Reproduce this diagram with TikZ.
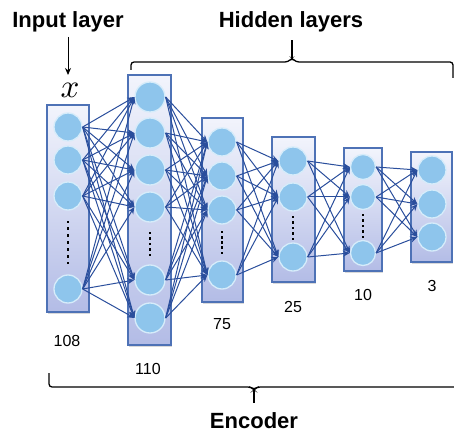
\documentclass[tikz,border=0pt]{standalone}
\usepackage{fontspec}
\setmainfont{Liberation Sans}
\usetikzlibrary{arrows.meta,shadows}

\definecolor{boxedge}{HTML}{4E72B6}
\definecolor{boxtop}{HTML}{F2F4FC}
\definecolor{boxbot}{HTML}{B3BCE6}
\definecolor{neufill}{HTML}{8EC5EC}
\definecolor{neurim}{HTML}{D6ECFA}
\definecolor{linkcol}{HTML}{2A4E9C}

\begin{document}
\begin{tikzpicture}[x=1pt,y=-1pt,
  layerbox/.style={draw=boxedge, line width=1.2pt, top color=boxtop, bottom color=boxbot,
    drop shadow={shadow xshift=1.2pt, shadow yshift=-1.6pt, opacity=0.3}, inner sep=0pt},
  neuron/.style={circle, fill=neufill, draw=neurim, line width=1.3pt, inner sep=0pt},
  link/.style={draw=linkcol, line width=1pt, -{Stealth[length=7pt,width=6pt]}},
  dotmark/.style={fill=black},
  title/.style={font=\bfseries\fontsize{22}{26}\selectfont, anchor=base},
  count/.style={font=\fontsize{16}{19}\selectfont},
  brace/.style={line width=1.3pt, rounded corners=3pt}]

\useasboundingbox (0,0) rectangle (454,435);

% layer frames
\node[layerbox, minimum width=42pt, minimum height=207pt] (box1) at (68,208.5) {};
\node[layerbox, minimum width=43pt, minimum height=270pt] (box2) at (149.5,210) {};
\node[layerbox, minimum width=41pt, minimum height=184pt] (box3) at (222.5,210) {};
\node[layerbox, minimum width=43pt, minimum height=145pt] (box4) at (293.5,209.5) {};
\node[layerbox, minimum width=38pt, minimum height=123pt] (box5) at (363,209.5) {};
\node[layerbox, minimum width=41pt, minimum height=110pt] (box6) at (431.5,207) {};

% neurons
\foreach \y [count=\i] in {127,160,196,289}
  \node[neuron, minimum size=28pt] (a\i) at (68,\y) {};
\foreach \y [count=\i] in {97,133,170,207,280,318}
  \node[neuron, minimum size=30pt] (b\i) at (150,\y) {};
\foreach \y [count=\i] in {142,176,210,275}
  \node[neuron, minimum size=28pt] (c\i) at (222,\y) {};
\foreach \y [count=\i] in {161,197,257}
  \node[neuron, minimum size=28pt] (d\i) at (293,\y) {};
\foreach \y [count=\i] in {167,197,253}
  \node[neuron, minimum size=25pt] (e\i) at (363,\y) {};
\foreach \y [count=\i] in {170,204,237}
  \node[neuron, minimum size=28pt] (f\i) at (432,\y) {};

% elided neurons
\foreach \k in {0,...,6}
  \fill[dotmark] (66.6,{222+\k*41/6-1.4}) rectangle ++(2.8,2.8);
\foreach \k in {0,...,4}
  \fill[dotmark] (148.6,{233+\k*22/4-1.4}) rectangle ++(2.8,2.8);
\foreach \k in {0,...,4}
  \fill[dotmark] (220.6,{232+\k*21/4-1.4}) rectangle ++(2.8,2.8);
\foreach \k in {0,...,4}
  \fill[dotmark] (291.6,{217+\k*22/4-1.4}) rectangle ++(2.8,2.8);
\foreach \k in {0,...,4}
  \fill[dotmark] (361.6,{215+\k*22/4-1.4}) rectangle ++(2.8,2.8);

% fully connected links
\foreach \i in {1,...,4} \foreach \j in {1,...,6}
  \draw[link] (a\i.east) -- (b\j.west);
\foreach \i in {1,...,6} \foreach \j in {1,...,4}
  \draw[link] (b\i.east) -- (c\j.west);
\foreach \i in {1,...,4} \foreach \j in {1,...,3}
  \draw[link] (c\i.east) -- (d\j.west);
\foreach \i in {1,...,3} \foreach \j in {1,...,3}
  \draw[link] (d\i.east) -- (e\j.west);
\foreach \i in {1,...,3} \foreach \j in {1,...,3}
  \draw[link] (e\i.east) -- (f\j.west);

% layer sizes
\node[count] (n1) at (67,341) {108};
\node[count] (n2) at (148,369) {110};
\node[count] (n3) at (222,324) {75};
\node[count] (n4) at (293,307) {25};
\node[count] (n5) at (363,295) {10};
\node[count] (n6) at (432,286) {3};

% input annotation
\node[title] (inlabel) at (68,28) {Input layer};
\node[scale=3.3, inner sep=0.3pt] (xin) at (70,90) {$x$};
\coordinate (arrtop) at (68,37);
\draw[line width=1pt, -{Stealth[length=7pt,width=6pt]}] (arrtop) -- (68,75);

% hidden layers brace
\node[title] (hidlabel) at (291,28) {Hidden layers};
\draw[brace] (131,70) -- (131,62) -- (288,62) -- (292,58) -- (296,62) -- (453,62) -- (453,78);
\draw[line width=1.3pt] (292,59) -- (292,40);

% encoder brace
\draw[brace] (49,373) -- (49,387) -- (251,387) -- (254,390) -- (257,387) -- (456,387);
\draw[line width=1.3pt] (254,389) -- (254,403);
\node[title] (enclabel) at (254,428) {Encoder};

\end{tikzpicture}
\end{document}
